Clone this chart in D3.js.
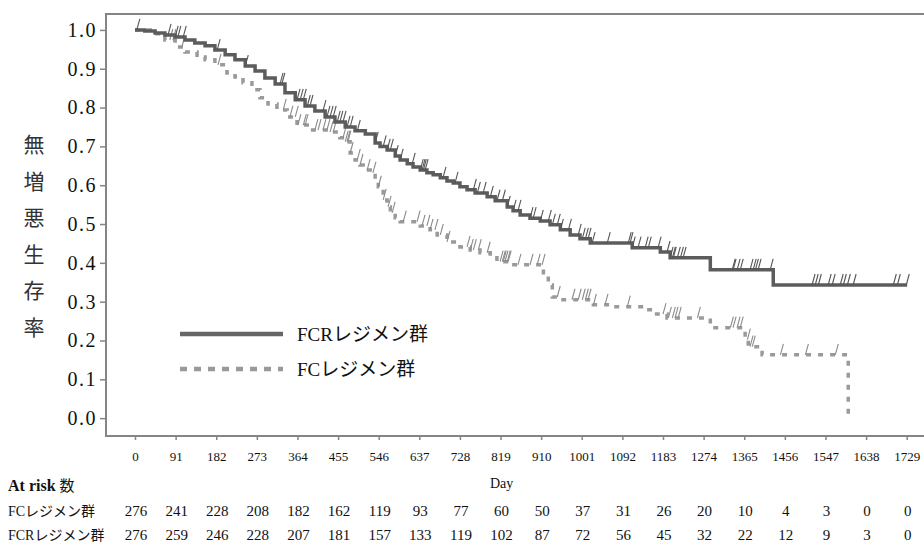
<!DOCTYPE html>
<html>
<head>
<meta charset="utf-8">
<script src="https://cdn.jsdelivr.net/npm/d3@7"></script>
<style>
  body { margin: 0; background: #fff; }
  svg { display: block; }
</style>
</head>
<body>
<div id="kmChrt"></div>
<script>
// survival step points (day, survival after event)
const fcrDays = [0, 22, 45, 67, 90, 112, 134, 157, 179, 202, 224, 247, 269, 291, 314, 336, 359, 381, 403, 426, 448, 471, 493, 516, 538, 549, 565, 583, 594, 610, 623, 639, 654, 668, 684, 699, 713, 728, 744, 762, 789, 807, 834, 847, 863, 885, 908, 930, 953, 975, 997, 1020, 1114, 1177, 1199, 1289, 1430, 1730];
const fcrSurv = [1.0, 0.997, 0.992, 0.987, 0.982, 0.974, 0.966, 0.959, 0.948, 0.936, 0.923, 0.907, 0.894, 0.876, 0.861, 0.838, 0.820, 0.804, 0.791, 0.776, 0.763, 0.750, 0.740, 0.732, 0.709, 0.700, 0.691, 0.675, 0.665, 0.655, 0.647, 0.639, 0.632, 0.627, 0.619, 0.611, 0.606, 0.596, 0.588, 0.580, 0.570, 0.560, 0.544, 0.534, 0.523, 0.515, 0.508, 0.498, 0.485, 0.472, 0.462, 0.451, 0.439, 0.428, 0.413, 0.382, 0.343, 0.343];

const fcDays = [0, 45, 67, 90, 112, 139, 157, 179, 206, 224, 242, 262, 280, 298, 318, 341, 363, 386, 437, 459, 471, 482, 493, 504, 516, 527, 538, 545, 556, 565, 572, 583, 594, 639, 661, 677, 699, 728, 751, 773, 796, 811, 841, 915, 926, 935, 959, 1027, 1065, 1139, 1161, 1192, 1289, 1367, 1374, 1405, 1598];
const fcSurv = [1.0, 0.990, 0.974, 0.956, 0.943, 0.930, 0.923, 0.910, 0.889, 0.879, 0.864, 0.846, 0.825, 0.809, 0.794, 0.776, 0.755, 0.742, 0.737, 0.722, 0.712, 0.683, 0.665, 0.652, 0.639, 0.632, 0.609, 0.596, 0.562, 0.544, 0.529, 0.516, 0.506, 0.495, 0.485, 0.472, 0.454, 0.441, 0.433, 0.426, 0.413, 0.403, 0.395, 0.369, 0.343, 0.312, 0.305, 0.292, 0.287, 0.279, 0.268, 0.258, 0.233, 0.202, 0.184, 0.163, 0.0];

// censored days
const fcrCensor = [4, 74, 90, 96, 108, 184, 247, 325, 329, 363, 370, 377, 386, 392, 421, 430, 437, 444, 453, 459, 466, 475, 482, 498, 538, 556, 565, 572, 583, 594, 621, 639, 643, 646, 650, 690, 717, 758, 767, 780, 796, 811, 823, 834, 847, 858, 885, 892, 908, 926, 935, 946, 953, 971, 993, 1002, 1009, 1015, 1024, 1058, 1105, 1109, 1114, 1127, 1143, 1150, 1172, 1192, 1199, 1204, 1206, 1215, 1222, 1228, 1338, 1340, 1349, 1356, 1378, 1385, 1390, 1396, 1423, 1517, 1524, 1531, 1553, 1562, 1580, 1587, 1596, 1609, 1699, 1708, 1728];
const fcCensor = [78, 85, 105, 186, 332, 347, 359, 365, 377, 381, 403, 410, 421, 430, 437, 444, 466, 471, 475, 477, 482, 498, 504, 520, 533, 545, 556, 567, 576, 601, 632, 643, 654, 661, 672, 684, 699, 744, 751, 758, 769, 789, 818, 823, 825, 829, 834, 836, 858, 885, 901, 912, 946, 979, 993, 1002, 1009, 1015, 1027, 1053, 1103, 1183, 1195, 1204, 1210, 1217, 1260, 1334, 1340, 1349, 1356, 1372, 1378, 1383, 1446, 1502, 1569];

const tickDays = [0, 91, 182, 273, 364, 455, 546, 637, 728, 819, 910, 1001, 1092, 1183, 1274, 1365, 1456, 1547, 1638, 1729];
const atRiskFC = [276, 241, 228, 208, 182, 162, 119, 93, 77, 60, 50, 37, 31, 26, 20, 10, 4, 3, 0, 0];
const atRiskFCR = [276, 259, 246, 228, 207, 181, 157, 133, 119, 102, 87, 72, 56, 45, 32, 22, 12, 9, 3, 0];
const yTicks = [0, 0.1, 0.2, 0.3, 0.4, 0.5, 0.6, 0.7, 0.8, 0.9, 1.0];
const yTitle = ['無', '増', '悪', '生', '存', '率'];

const width = 924, height = 543;
const serif = "'Liberation Serif', 'Noto Sans CJK JP', serif";
const scaleX = d3.scaleLinear().domain([-65, 1770]).range([106, 925]);
const scaleY = d3.scaleLinear().domain([-0.046, 1.041]).range([436, 14]);

const svg = d3.select('#kmChrt').append('svg')
    .attr('width', width)
    .attr('height', height);

// frame
svg.append('path')
    .attr('d', 'M925,' + scaleY.range()[1] + 'H106V436H925')
    .attr('fill', 'none')
    .attr('stroke', '#858585')
    .attr('stroke-width', 2);

const yAxis = svg.append('g')
    .attr('transform', 'translate(106,0)')
    .call(d3.axisLeft(scaleY).tickValues(yTicks).tickFormat(d3.format('.1f')).tickSize(6).tickPadding(3));
yAxis.select('.domain').remove();
yAxis.selectAll('line').attr('stroke', '#858585').attr('stroke-width', 1.5);
yAxis.selectAll('text')
    .attr('fill', '#111')
    .attr('font-family', serif)
    .style('font-size', '20px')
    .style('letter-spacing', '1.5px');

const xAxis = svg.append('g')
    .attr('transform', 'translate(0,436)')
    .call(d3.axisBottom(scaleX).tickValues(tickDays).tickFormat(d3.format('d')).tickSize(4).tickPadding(12));
xAxis.select('.domain').remove();
xAxis.selectAll('line').attr('stroke', '#858585').attr('stroke-width', 1.5);
xAxis.selectAll('text')
    .attr('fill', '#111')
    .attr('font-family', serif)
    .style('font-size', '13px');

// y title, one char per line
svg.append('g').selectAll('text')
    .data(yTitle)
    .enter().append('text')
    .attr('x', 34)
    .attr('y', (d, i) => 152 + i * 36.5)
    .attr('text-anchor', 'middle')
    .attr('fill', '#333')
    .style('font-family', "'Noto Sans CJK JP', sans-serif")
    .style('font-size', '21px')
    .text((d) => d);

svg.append('text')
    .attr('x', scaleX(819) + 1)
    .attr('y', 488)
    .attr('text-anchor', 'middle')
    .attr('fill', '#111')
    .style('font-family', serif)
    .style('font-size', '14px')
    .text('Day');

function toPoints(days, surv) {
  return days.map((d, i) => [d, surv[i]]);
}
function survAt(days, surv, t) {
  const i = d3.bisectRight(days, t) - 1;
  return surv[Math.max(0, i)];
}

const stepLine = d3.line()
    .x((r) => scaleX(r[0]))
    .y((r) => scaleY(r[1]))
    .curve(d3.curveStepAfter);

const groups = [
  { name: 'FCRレジメン群', days: fcrDays, surv: fcrSurv, censor: fcrCensor, color: '#5c5c5c', tick: '#555', dash: null, w: 3.5 },
  { name: 'FCレジメン群', days: fcDays, surv: fcSurv, censor: fcCensor, color: '#9a9a9a', tick: '#8a8a8a', dash: '5,7', w: 3.5 }
];

// draw FC first so FCR sits on top
groups.slice().reverse().forEach((g) => {
  svg.append('path')
      .attr('fill', 'none')
      .attr('stroke', g.color)
      .attr('stroke-width', g.w)
      .attr('stroke-dasharray', g.dash)
      .attr('d', stepLine(toPoints(g.days, g.surv)));

  svg.append('g').selectAll('line')
      .data(g.censor)
      .enter().append('line')
      .attr('x1', (d) => scaleX(d))
      .attr('y1', (d) => scaleY(survAt(g.days, g.surv, d)))
      .attr('x2', (d) => scaleX(d) + 3)
      .attr('y2', (d) => scaleY(survAt(g.days, g.surv, d)) - 11)
      .attr('stroke', g.tick)
      .attr('stroke-width', 1.1);
});

// legend
const legend = svg.append('g');
groups.forEach((g, i) => {
  const ly = 334 + i * 35;
  legend.append('line')
      .attr('x1', 180).attr('x2', 283)
      .attr('y1', ly).attr('y2', ly)
      .attr('stroke', i === 0 ? '#666' : '#999')
      .attr('stroke-width', 4.5)
      .attr('stroke-dasharray', i === 0 ? null : '7,7');
  legend.append('text')
      .attr('x', 297)
      .attr('y', ly + 7)
      .attr('fill', '#111')
      .style('font-family', serif)
      .style('font-size', '19px')
      .text(g.name);
});

// at-risk table
svg.append('text')
    .attr('x', 8).attr('y', 491)
    .attr('fill', '#111')
    .style('font-family', serif)
    .style('font-size', '16px')
    .style('font-weight', 'bold')
    .text('At risk ')
    .append('tspan')
    .style('font-family', "'Noto Sans CJK JP', sans-serif")
    .style('font-weight', 'normal')
    .style('font-size', '15px')
    .text('数');

const riskRows = [
  { label: 'FCレジメン群', values: atRiskFC, y: 516 },
  { label: 'FCRレジメン群', values: atRiskFCR, y: 540 }
];
riskRows.forEach((row) => {
  svg.append('text')
      .attr('x', 8).attr('y', row.y)
      .attr('fill', '#111')
      .style('font-family', serif)
      .style('font-size', '14px')
      .text(row.label);
  svg.append('g').selectAll('text')
      .data(row.values)
      .enter().append('text')
      .attr('x', (d, i) => scaleX(tickDays[i]) + 1)
      .attr('y', row.y)
      .attr('text-anchor', 'middle')
      .attr('fill', '#111')
      .style('font-family', serif)
      .style('font-size', '15px')
      .text((d) => d);
});
</script>
</body>
</html>
